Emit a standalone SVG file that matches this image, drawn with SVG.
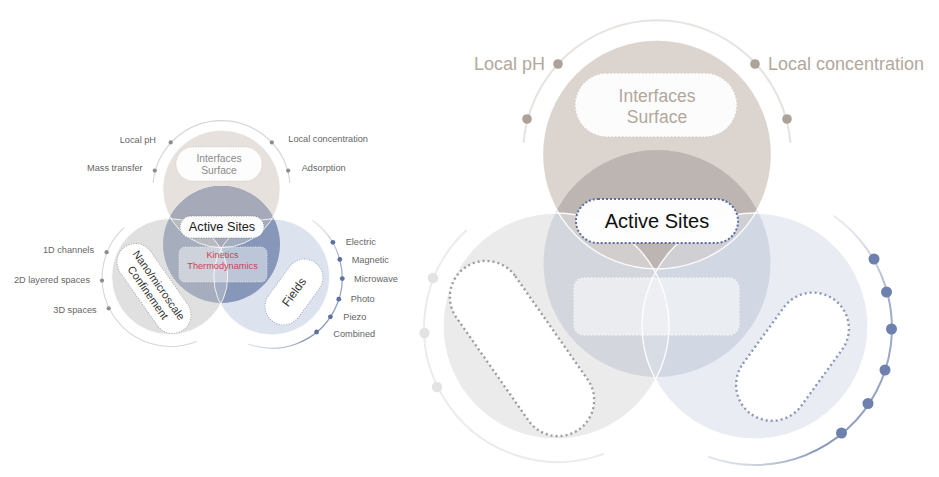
<svg xmlns="http://www.w3.org/2000/svg" width="939" height="477" viewBox="0 0 939 477">
<style>
text{font-family:"Liberation Sans",Arial,Helvetica,sans-serif}
.lbl{font-size:9.2px;fill:#666}
.blbl{font-size:18px;fill:#b3a89d}
.out{fill:none;stroke:#fff;stroke-width:1.4;stroke-opacity:0.9}
.sout{fill:none;stroke:#fff;stroke-width:0.9;stroke-opacity:0.9}
.sdotg{fill:#8d8d8d}
.sdotb{fill:#5b6fa0}
.bdott{fill:#aca297}
.bdotl{fill:#e3e3e3}
.bdotb{fill:#6e80ad}
.spill{fill:#fff;stroke:#a8a8a8;stroke-width:1;stroke-dasharray:1 1.5}
</style>
<defs>
<clipPath id="bigTopClip"><circle cx="657" cy="154.5" r="114.5"/></clipPath>
<clipPath id="smTopClip"><circle cx="221.5" cy="188.9" r="58.7"/></clipPath>
<linearGradient id="bigArcGrad" gradientUnits="userSpaceOnUse" x1="834" y1="216" x2="708" y2="457">
<stop offset="0" stop-color="#e8eaef"/>
<stop offset="0.18" stop-color="#a2adc8"/>
<stop offset="0.8" stop-color="#8a98bb"/>
<stop offset="1" stop-color="#e4e7ed"/>
</linearGradient>
<linearGradient id="smArcGrad" gradientUnits="userSpaceOnUse" x1="312" y1="220" x2="248" y2="344">
<stop offset="0" stop-color="#e0e3ea"/>
<stop offset="0.18" stop-color="#97a4c4"/>
<stop offset="0.8" stop-color="#8594ba"/>
<stop offset="1" stop-color="#dde1ea"/>
</linearGradient>
</defs>

<!-- ============ SMALL DIAGRAM ============ -->
<g id="small-circles">
<circle cx="221.5" cy="188.9" r="58.7" fill="#e6e1dc"/>
<circle cx="221.5" cy="244.5" r="58.5" fill="#7889ac"/>
<circle cx="221.5" cy="244.5" r="58.5" fill="#a6a9b7" clip-path="url(#smTopClip)"/>
<circle cx="169.7" cy="276.6" r="58" fill="#c8c8c8" fill-opacity="0.57"/>
<circle cx="271.8" cy="276.9" r="58" fill="#a0b1d0" fill-opacity="0.36"/>
<circle class="sout" cx="221.5" cy="188.9" r="58.7"/>
<circle class="sout" cx="169.7" cy="276.6" r="58"/>
<circle class="sout" cx="271.8" cy="276.9" r="58"/>
</g>

<g id="small-arcs">
<path d="M153.1,182.9 A68.7,68.7 0 0 1 289.9,182.9" fill="none" stroke="#d6d6d6" stroke-width="1.1"/>
<path d="M123.9,227.7 A68.7,68.7 0 0 0 196.5,341.6" fill="none" stroke="#d6d6d6" stroke-width="1.1"/>
<path d="M312.1,220.3 A70.3,70.3 0 0 1 247.8,344" fill="none" stroke="url(#smArcGrad)" stroke-width="1.2"/>
</g>

<g id="small-top-labels">
<circle class="sdotg" cx="170.7" cy="142.4" r="2.1"/>
<text class="lbl" x="156" y="143.3" text-anchor="end">Local pH</text>
<circle class="sdotg" cx="154.8" cy="170.6" r="2.1"/>
<text class="lbl" x="142.7" y="171" text-anchor="end">Mass transfer</text>
<circle class="sdotg" cx="271.8" cy="142.4" r="2.1"/>
<text class="lbl" x="288.3" y="142.3">Local concentration</text>
<circle class="sdotg" cx="288.2" cy="170.6" r="2.1"/>
<text class="lbl" x="301.7" y="171">Adsorption</text>
</g>

<g id="small-left-labels">
<circle class="sdotg" cx="106.6" cy="252.2" r="2.1"/>
<text class="lbl" x="94" y="253.3" text-anchor="end">1D channels</text>
<circle class="sdotg" cx="102" cy="280.6" r="2.1"/>
<text class="lbl" x="90" y="283.3" text-anchor="end">2D layered spaces</text>
<circle class="sdotg" cx="108.7" cy="308.3" r="2.1"/>
<text class="lbl" x="96.7" y="313.3" text-anchor="end">3D spaces</text>
</g>

<g id="small-right-labels">
<circle class="sdotb" cx="332.9" cy="242.3" r="2.4"/>
<text class="lbl" x="345.7" y="245">Electric</text>
<circle class="sdotb" cx="339.8" cy="259.4" r="2.4"/>
<text class="lbl" x="351.7" y="262.7">Magnetic</text>
<circle class="sdotb" cx="342.3" cy="278.6" r="2.4"/>
<text class="lbl" x="354" y="282.3">Microwave</text>
<circle class="sdotb" cx="338.8" cy="299.2" r="2.4"/>
<text class="lbl" x="350.7" y="301.7">Photo</text>
<circle class="sdotb" cx="330.4" cy="316.8" r="2.4"/>
<text class="lbl" x="343.3" y="320">Piezo</text>
<circle class="sdotb" cx="316.6" cy="332" r="2.4"/>
<text class="lbl" x="333.3" y="336.7">Combined</text>
</g>

<g id="small-interfaces">
<rect x="176" y="147" width="86" height="34" rx="17" fill="#fff" fill-opacity="0.92" stroke="#cfc8c0" stroke-width="0.9" stroke-dasharray="1 1.5"/>
<text x="219" y="161.7" font-size="10.3" fill="#8a8a8a" text-anchor="middle">Interfaces</text>
<text x="219" y="174" font-size="10.3" fill="#8a8a8a" text-anchor="middle">Surface</text>
</g>

<g id="small-active-sites">
<rect x="180" y="216" width="84" height="22" rx="11" fill="#fff" fill-opacity="0.95" stroke="#7c859c" stroke-width="0.9" stroke-dasharray="1 1.5"/>
<text x="222" y="231" font-size="12.7" fill="#1a1a1a" text-anchor="middle">Active Sites</text>
</g>

<g id="small-kinetics">
<rect x="179" y="247" width="88" height="35" rx="6" fill="#fff" fill-opacity="0.45" stroke="#e8eaf0" stroke-width="0.9" stroke-dasharray="1 1.5"/>
<text x="222.5" y="258.3" font-size="9.2" fill="#cc4456" text-anchor="middle">Kinetics</text>
<text x="222.5" y="269" font-size="9.2" fill="#cc4456" text-anchor="middle">Thermodynamics</text>
</g>

<g id="small-confinement" transform="translate(154 288.5) rotate(55)">
<rect class="spill" x="-50.8" y="-18.5" width="101.6" height="37" rx="18.5"/>
<text x="0" y="-2" font-size="11" fill="#333" text-anchor="middle">Nano/microscale</text>
<text x="0" y="11" font-size="11" fill="#333" text-anchor="middle">Confinement</text>
</g>

<g id="small-fields" transform="translate(294 292) rotate(-54)">
<rect x="-36.3" y="-18.5" width="72.6" height="37" rx="18.5" fill="#fff" stroke="#9aa5c0" stroke-width="1" stroke-dasharray="1 1.5"/>
<text x="0" y="4.2" font-size="12" fill="#333" text-anchor="middle">Fields</text>
</g>

<!-- ============ BIG DIAGRAM ============ -->
<g id="big-circles">
<circle cx="657" cy="154.5" r="114.5" fill="#dcd4ce"/>
<circle cx="657" cy="263.5" r="113.5" fill="#c2cad8"/>
<circle cx="657" cy="263.5" r="113.5" fill="#bdb5b1" clip-path="url(#bigTopClip)"/>
<circle cx="556" cy="326" r="113" fill="#dedede" fill-opacity="0.61"/>
<circle cx="755" cy="326" r="113" fill="#dbe0ea" fill-opacity="0.61"/>
<circle class="out" cx="657" cy="154.5" r="114.5"/>
<circle class="out" cx="556" cy="326" r="113"/>
<circle class="out" cx="755" cy="326" r="113"/>
</g>

<g id="big-arcs">
<path d="M523.5,142.8 A134,134 0 0 1 790.5,142.8" fill="none" stroke="#e6e3e0" stroke-width="2"/>
<path d="M466.6,230 A134,134 0 0 0 603.8,453.9" fill="none" stroke="#ebebeb" stroke-width="2"/>
<path d="M833.6,215.8 A137,137 0 0 1 708.1,456.7" fill="none" stroke="url(#bigArcGrad)" stroke-width="2"/>
</g>

<g id="big-top-labels">
<circle class="bdott" cx="558" cy="64" r="4.8"/>
<text class="blbl" x="545" y="70" text-anchor="end">Local pH</text>
<circle class="bdott" cx="527" cy="119" r="4.8"/>
<circle class="bdott" cx="755" cy="64" r="4.8"/>
<text class="blbl" x="768" y="70">Local concentration</text>
<circle class="bdott" cx="787" cy="119" r="4.8"/>
</g>

<g id="big-left-dots">
<circle class="bdotl" cx="433" cy="278" r="5.2"/>
<circle class="bdotl" cx="424.5" cy="333" r="5.2"/>
<circle class="bdotl" cx="437" cy="387" r="5.2"/>
</g>

<g id="big-right-dots">
<circle class="bdotb" cx="874" cy="259" r="5.5"/>
<circle class="bdotb" cx="886.5" cy="292" r="5.5"/>
<circle class="bdotb" cx="891.5" cy="329" r="5.5"/>
<circle class="bdotb" cx="885" cy="370" r="5.5"/>
<circle class="bdotb" cx="868" cy="403.5" r="5.5"/>
<circle class="bdotb" cx="841.5" cy="433" r="5.5"/>
</g>

<g id="big-interfaces">
<rect x="575" y="73" width="162" height="64" rx="32" fill="#fff" fill-opacity="0.93" stroke="#d6d0ca" stroke-width="1.4" stroke-dasharray="1.5 2"/>
<text x="657" y="102" font-size="17.5" fill="#b2a79c" text-anchor="middle">Interfaces</text>
<text x="657" y="123" font-size="17.5" fill="#b2a79c" text-anchor="middle">Surface</text>
</g>

<g id="big-active-sites">
<rect x="576" y="199" width="162" height="44" rx="22" fill="#fff" fill-opacity="0.97" stroke="#5a6ca3" stroke-width="2" stroke-dasharray="2 2"/>
<text x="657" y="228.3" font-size="20" fill="#111" text-anchor="middle">Active Sites</text>
</g>

<g id="big-kinetics">
<rect x="574" y="278" width="165" height="57" rx="10" fill="#fff" fill-opacity="0.55" stroke="#f4f5f8" stroke-width="1.4" stroke-dasharray="1.5 2"/>
</g>

<g id="big-confinement" transform="translate(522 348.5) rotate(55)">
<rect x="-99" y="-36" width="198" height="72" rx="36" fill="#fff" stroke="#9c9c9c" stroke-width="2.4" stroke-dasharray="2 3"/>
</g>

<g id="big-fields" transform="translate(792.5 356.7) rotate(-54)">
<rect x="-70.7" y="-36" width="141.4" height="72" rx="36" fill="#fff" stroke="#8a97b9" stroke-width="2.4" stroke-dasharray="2 3"/>
</g>
</svg>
